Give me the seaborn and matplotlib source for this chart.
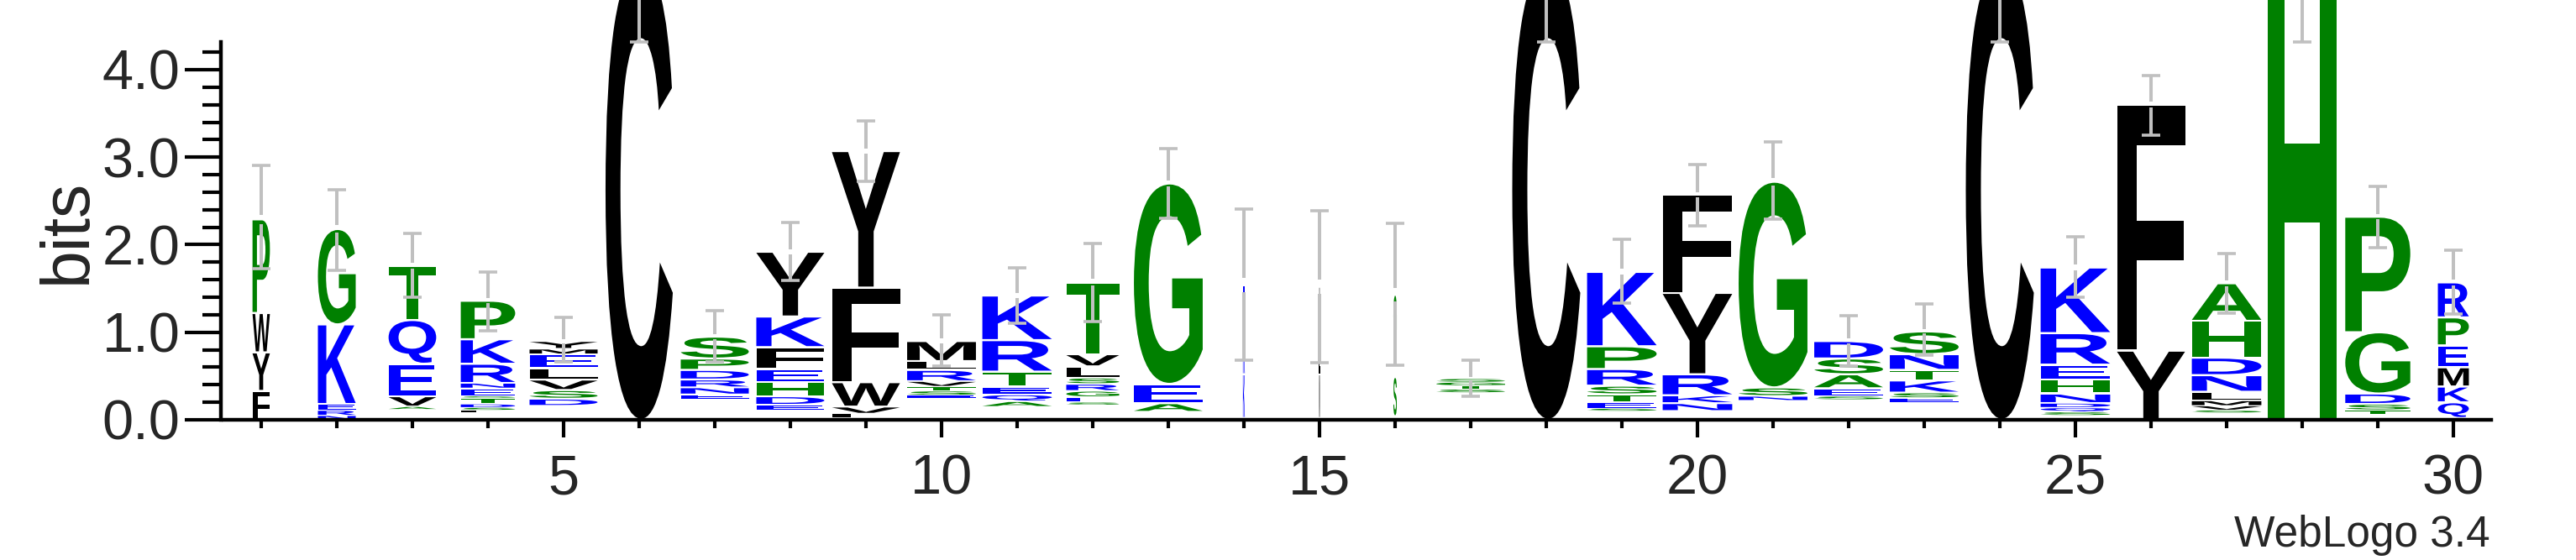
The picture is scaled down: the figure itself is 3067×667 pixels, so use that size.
import matplotlib
matplotlib.use("Agg")
import matplotlib.pyplot as plt
import seaborn as sns
from matplotlib.textpath import TextPath
from matplotlib.patches import PathPatch
from matplotlib.font_manager import FontProperties
from matplotlib.transforms import Affine2D
from matplotlib.ticker import MultipleLocator, FormatStrFormatter

# sequence logo, 30 positions, letters stacked bottom -> top
positions = list(range(1, 31))
letters = ["FYWP", "NREKG", "AVEQT", "LSDTSENRKP", "DSVLEMY", "C", "ENRDPS",
           "EDHEFKY", "LVWFY", "ESTVRLM", "AQETRK", "SEGRSLVT", "AEG", "KRE",
           "MLV", "STG", "STGS", "C", "SETSRPK", "NKRYF", "NSG", "SEASD",
           "ESKTNS", "C", "SQDNHERK", "YF", "SVMLNDHA", "H", "TSDGP", "QKMEPR"]
heights = [
    [0.33, 0.44, 0.45, 1.07],
    [0.05, 0.06, 0.07, 0.91, 1.09],
    [0.03, 0.12, 0.37, 0.50, 0.62],
    [0.03, 0.03, 0.04, 0.07, 0.02, 0.09, 0.06, 0.22, 0.28, 0.44],
    [0.08, 0.10, 0.12, 0.13, 0.16, 0.06, 0.09],
    [5.2],
    [0.06, 0.08, 0.09, 0.11, 0.13, 0.25],
    [0.06, 0.10, 0.16, 0.15, 0.25, 0.35, 0.74],
    [0.05, 0.08, 0.28, 1.08, 1.56],
    [0.03, 0.05, 0.05, 0.06, 0.13, 0.10, 0.23],
    [0.06, 0.08, 0.09, 0.17, 0.36, 0.51],
    [0.03, 0.06, 0.07, 0.08, 0.07, 0.13, 0.14, 0.82],
    [0.10, 0.22, 2.29],
    [0.50, 0.50, 0.52],
    [0.50, 0.50, 0.50],
    [0.45, 0.45, 0.49],
    [0.04, 0.04, 0.04, 0.04],
    [5.2],
    [0.03, 0.07, 0.09, 0.10, 0.19, 0.26, 0.85],
    [0.09, 0.09, 0.24, 0.93, 1.12],
    [0.05, 0.10, 2.35],
    [0.04, 0.09, 0.16, 0.18, 0.20],
    [0.05, 0.06, 0.14, 0.12, 0.18, 0.26],
    [5.2],
    [0.04, 0.05, 0.05, 0.11, 0.16, 0.17, 0.36, 0.75],
    [0.79, 2.81],
    [0.03, 0.05, 0.06, 0.10, 0.19, 0.20, 0.42, 0.43],
    [5.25],
    [0.05, 0.07, 0.12, 0.70, 1.32],
    [0.18, 0.18, 0.22, 0.25, 0.32, 0.40],
]
# bits taken by letters too small to be drawn (empty space under each stack)
rare_bits = [0.0, 0.0, 0.12, 0.08, 0.16, 0.0, 0.23, 0.11, 0.02, 0.25,
             0.15, 0.17, 0.09, 0.02, 0.02, 0.04, 0.31, 0.0, 0.10, 0.10,
             0.22, 0.23, 0.20, 0.0, 0.05, 0.0, 0.08, 0.0, 0.06, 0.02]
# stack width (fraction of non-gap sequences)
widths = [0.23, 0.50, 0.63, 0.72, 0.90, 0.89, 0.90, 0.90, 0.90, 0.91,
          0.92, 0.70, 0.91, 0.025, 0.012, 0.045, 0.91, 0.90, 0.92, 0.92,
          0.91, 0.91, 0.91, 0.90, 0.92, 0.90, 0.92, 0.91, 0.86, 0.41]
err_lo = [1.73, 1.71, 1.40, 1.02, 0.66, 4.32, 0.66, 1.59, 2.72, 0.61,
          1.10, 1.12, 2.30, 0.68, 0.65, 0.62, 0.27, 4.32, 1.33, 2.22,
          2.29, 0.61, 0.74, 4.32, 1.40, 3.25, 1.22, 4.32, 1.97, 1.21]
err_hi = [2.91, 2.63, 2.13, 1.69, 1.17, 6.0, 1.25, 2.25, 3.41, 1.20,
          1.74, 2.01, 3.10, 2.41, 2.39, 2.24, 0.68, 6.0, 2.06, 2.92,
          3.17, 1.19, 1.32, 6.0, 2.09, 3.93, 1.90, 6.0, 2.67, 1.94]

GREEN, BLUE, BLACK = "#008000", "#0000ff", "#000000"
colors = {}
for c in "CFYWMLVI":
    colors[c] = BLACK
for c in "KREQDN":
    colors[c] = BLUE
for c in "GTSPHA":
    colors[c] = GREEN

sns.set_style("ticks")
plt.rcParams['font.family'] = ['Liberation Sans', 'DejaVu Sans']

font = FontProperties(family='Liberation Sans', weight='bold')

fig = plt.figure(figsize=(30.67, 6.67), dpi=100)
ax = fig.add_axes([266 / 3067, 1 - 500 / 667, 2700 / 3067, 450.4 / 667])


def draw_letter(ch, xc, y0, w, h):
    path = TextPath((0, 0), ch, size=1, prop=font)
    ext = path.get_extents()
    g = min(0.012, 0.12 * h)
    tr = (Affine2D().translate(-ext.x0, -ext.y0)
          .scale(w / ext.width, (h - 2 * g) / ext.height)
          .translate(xc - w / 2, y0 + g))
    ax.add_patch(PathPatch(tr.transform_path(path), facecolor=colors[ch],
                           edgecolor='none', lw=0, clip_on=False, zorder=2))


tops = []
for x, seq, hs, base, w in zip(positions, letters, heights, rare_bits, widths):
    y = base
    for ch, h in zip(seq, hs):
        draw_letter(ch, x, y, w, h)
        y += h
    tops.append(y)

# error bars, with the small break at the top of the stack
gray = "#c0c0c0"
for x, top, lo, hi in zip(positions, tops, err_lo, err_hi):
    g = 0.09 * (hi - lo) / 2
    if lo < top < hi:
        segs = [(lo, top - g), (top + g, hi)]
    else:
        segs = [(lo, hi)]
    for a, b in segs:
        ax.vlines(x, a, b, color=gray, lw=2.9, zorder=3, clip_on=False)
    ax.hlines([lo, hi], x - 0.117, x + 0.117, color=gray, lw=2.6, zorder=3, clip_on=False)

ax.set_xlim(0.5, 30.5)
ax.set_ylim(0, 4.32)
ax.autoscale(False)

ax.set_xticks(positions, minor=True)
ax.set_xticks([5, 10, 15, 20, 25, 30])
ax.set_xticklabels(["5", "10", "15", "20", "25", "30"])
ax.yaxis.set_major_locator(MultipleLocator(1))
ax.yaxis.set_minor_locator(MultipleLocator(0.2))
ax.yaxis.set_major_formatter(FormatStrFormatter('%.1f'))

ax.tick_params(axis='x', which='major', direction='out', length=15, width=3,
               labelsize=48, pad=14, color='black')
ax.tick_params(axis='x', which='minor', direction='out', length=7.5, width=3, color='black')
ax.tick_params(axis='y', which='major', direction='out', length=31, width=3,
               labelsize=48, pad=4, color='black')
ax.tick_params(axis='y', which='minor', direction='out', length=16, width=3, color='black')

sns.despine(ax=ax)
for s in ['left', 'bottom']:
    ax.spines[s].set_linewidth(3.2)
    ax.spines[s].set_color('black')
ax.spines['left'].set_position(('outward', 2))

fig.text(101.8 / 3067, 1 - 275.5 / 667, "bits", rotation=90, rotation_mode='anchor',
         ha='center', va='baseline', fontsize=58)
fig.text(2965 / 3067, 1 - 650.7 / 667, "WebLogo 3.4", ha='right', va='baseline', fontsize=37)

fig.savefig("out.png", dpi=100)
